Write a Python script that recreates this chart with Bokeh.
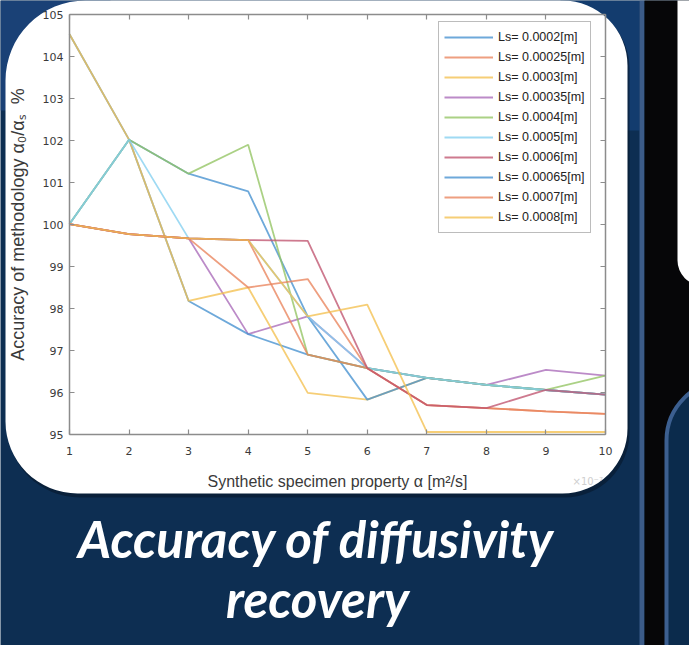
from bokeh.plotting import figure
from bokeh.models import (Range1d, LinearAxis, FixedTicker, Legend, LegendItem,
                          BoxAnnotation, Label)
from bokeh.embed import file_html
from bokeh.resources import INLINE

# ---------------- data ----------------
alpha_x = [1, 2, 3, 4, 5, 6, 7, 8, 9, 10]
x_ticks = [1, 2, 3, 4, 5, 6, 7, 8, 9, 10]
y_ticks = [95, 96, 97, 98, 99, 100, 101, 102, 103, 104, 105]

ls_labels = ["Ls= 0.0002[m]", "Ls= 0.00025[m]", "Ls= 0.0003[m]", "Ls= 0.00035[m]",
             "Ls= 0.0004[m]", "Ls= 0.0005[m]", "Ls= 0.0006[m]", "Ls= 0.00065[m]",
             "Ls= 0.0007[m]", "Ls= 0.0008[m]"]

acc_0002 = [104.53, 102.02, 98.18, 97.39, 96.90, 96.58, 96.35, 96.18, 96.06, 95.95]
acc_00025 = [100.01, 99.77, 99.67, 98.50, 98.70, 96.58, 95.70, 95.63, 95.55, 95.49]
acc_0003 = [104.53, 102.02, 98.18, 98.50, 95.99, 95.83, 96.35, 96.18, 96.06, 95.95]
acc_00035 = [100.01, 99.77, 99.67, 97.39, 97.81, 96.58, 96.35, 96.18, 96.54, 96.40]
acc_0004 = [100.01, 102.02, 101.21, 101.90, 96.90, 96.58, 96.35, 96.18, 96.06, 96.40]
acc_0005 = [100.01, 102.02, 99.67, 99.63, 97.81, 96.58, 96.35, 96.18, 96.06, 95.95]
acc_0006 = [100.01, 99.77, 99.67, 99.63, 99.61, 96.58, 95.70, 95.63, 96.06, 95.95]
acc_00065 = [100.01, 102.02, 101.21, 100.79, 97.81, 95.83, 96.35, 96.18, 96.06, 95.95]
acc_0007 = [100.01, 99.77, 99.67, 99.63, 96.90, 96.58, 95.70, 95.63, 95.55, 95.49]
acc_0008 = [100.01, 99.77, 99.67, 99.63, 97.81, 98.09, 95.06, 95.06, 95.06, 95.06]

series = [acc_0002, acc_00025, acc_0003, acc_00035, acc_0004,
          acc_0005, acc_0006, acc_00065, acc_0007, acc_0008]

BLUE, ORANGE, YELLOW, PURPLE = "#4591cf", "#e9845c", "#f3c050", "#a96ab8"
GREEN, LBLUE, RED = "#93c463", "#84cff0", "#c0546f"
colors = [BLUE, ORANGE, YELLOW, PURPLE, GREEN, LBLUE, RED, BLUE, ORANGE, YELLOW]
draw_order = [3, 0, 2, 7, 4, 5, 1, 8, 6, 9]

# ---------------- layout (pixels) ----------------
W, H = 689, 645
BOX_L, BOX_R, BOX_T, BOX_B = 69, 605, 14, 434      # MATLAB axes box on the page
X0, X1, Y0, Y1 = 1, 10, 95, 105
sx = (X1 - X0) / (BOX_R - BOX_L)
sy = (Y1 - Y0) / (BOX_B - BOX_T)
x_range = Range1d(X0 - BOX_L * sx, X1 + (W - BOX_R) * sx)
y_range = Range1d(Y0 - (H - BOX_B) * sy, Y1 + BOX_T * sy)

NAVY = "#0d2e52"

p = figure(width=W, height=H, output_backend="svg", toolbar_location=None,
           x_range=x_range, y_range=y_range, min_border=0,
           background_fill_color=NAVY, border_fill_color=NAVY,
           outline_line_color=None)
p.grid.visible = False

def box(l, r, t, b, fill, line=None, lw=0, radius=0, alpha=1):
    bx = BoxAnnotation(left=l, right=r, top=t, bottom=b,
                       left_units="canvas", right_units="canvas",
                       top_units="canvas", bottom_units="canvas",
                       fill_color=fill, fill_alpha=alpha,
                       line_color=line, line_width=lw, line_alpha=1 if line else 0,
                       border_radius=radius, level="underlay")
    p.add_layout(bx)

# slide background
box(0, 110, 0, 110, "#1a4176")
box(560, 639, 0, 130, "#133c6e")
box(7, 629, 3, 497, "#07182c", radius=(80, 65, 65, 72), alpha=0.6)   # soft shadow
box(5, 627, 0, 493, "white", radius=(80, 65, 65, 72))
box(639, 644, -10, 700, "#3b5b88")
box(644, 720, -10, 700, "#060608")
box(677, 740, -30, 285, "#ffffff", radius=(0, 0, 0, 25))
box(666, 760, 380, 760, "#0b2b4c", line="#3c5f90", lw=4, radius=(60, 0, 0, 0))

# axes (MATLAB-style box with inward ticks)
AX = "#8c8c8c"
TXT = "#3a3a3a"

def style(ax, labels=True):
    ax.axis_line_color = AX
    ax.axis_line_width = 1.5
    ax.major_tick_line_color = AX
    ax.major_tick_line_width = 1.2
    ax.major_tick_in = 5
    ax.major_tick_out = 0
    ax.minor_tick_line_color = None
    if labels:
        ax.major_label_text_font = "DejaVu Sans"
        ax.major_label_text_font_size = "11px"
        ax.major_label_text_color = TXT
        ax.axis_label_text_font = "Liberation Sans"
        ax.axis_label_text_font_style = "normal"
        ax.axis_label_text_color = TXT
    else:
        ax.major_label_text_color = None

xa, ya = p.xaxis[0], p.yaxis[0]
style(xa)
style(ya)
xa.axis_label_text_font_size = "16px"
ya.axis_label_text_font_size = "18px"
xa.ticker = FixedTicker(ticks=x_ticks)
ya.ticker = FixedTicker(ticks=y_ticks)
xa.fixed_location = Y0
ya.fixed_location = X0
xa.bounds = (X0, X1)
ya.bounds = (Y0, Y1)
xa.axis_label = "Synthetic specimen property α [m²/s]"
ya.axis_label = "Accuracy of methodology α₀/αₛ\u00a0\u00a0%"
xa.major_label_standoff = 12
ya.major_label_standoff = 6
xa.axis_label_standoff = 15
ya.axis_label_standoff = 12

top_ax = LinearAxis(ticker=FixedTicker(ticks=x_ticks), fixed_location=Y1, bounds=(X0, X1))
right_ax = LinearAxis(ticker=FixedTicker(ticks=y_ticks), fixed_location=X1, bounds=(Y0, Y1))
style(top_ax, labels=False)
style(right_ax, labels=False)
p.add_layout(top_ax, "above")
p.add_layout(right_ax, "right")

# lines
renderers = [None] * len(series)
for i in draw_order:
    renderers[i] = p.line(alpha_x, series[i], line_color=colors[i], line_width=1.8,
                          line_alpha=0.78)

legend = Legend(items=[LegendItem(label=ls_labels[i], renderers=[renderers[i]])
                       for i in range(len(series))],
                location=(438, H - 233), margin=0, padding=5, spacing=0,
                label_height=20, glyph_height=20, glyph_width=49, label_standoff=5,
                label_text_font="Liberation Sans", label_text_font_size="12.5px",
                label_text_color="#222222", border_line_color="#7a7a7a",
                border_line_width=1, background_fill_color="white",
                background_fill_alpha=1)
p.add_layout(legend)

# exponent hint at the end of the x axis (faint, as in the source)
p.add_layout(Label(x=572, y=481, x_units="canvas", y_units="canvas", text="×10⁻⁷",
                   text_color="#cfcfcf", text_font="DejaVu Sans", text_font_size="10px",
                   text_align="left", text_baseline="middle"))

for txt, cx, cy in (("Accuracy of diffusivity", 316, 538), ("recovery", 317, 598)):
    p.add_layout(Label(x=cx, y=cy, x_units="canvas", y_units="canvas", text=txt,
                       text_color="white", text_font="Lato",
                       text_font_style="bold italic", text_font_size="51px",
                       text_align="center", text_baseline="middle"))

open("out.html", "w").write(file_html(p, INLINE))
